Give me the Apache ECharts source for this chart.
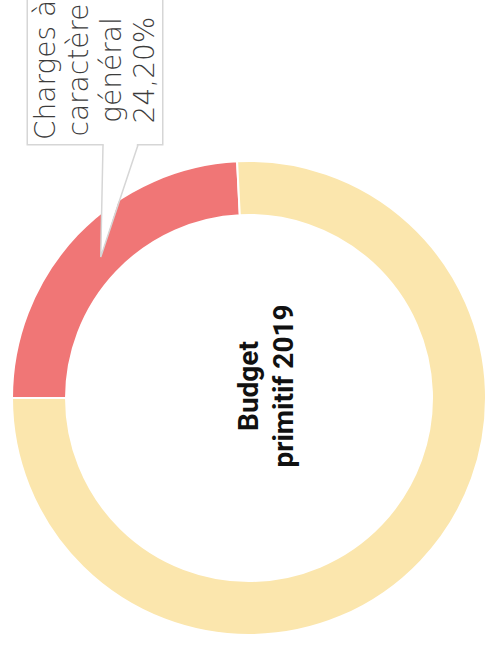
<!DOCTYPE html>
<html>
<head>
<meta charset="utf-8">
<script src="https://cdn.jsdelivr.net/npm/echarts@6/dist/echarts.min.js"></script>
<style>
html,body{margin:0;padding:0;background:#fff;}
#chart{width:488px;height:651px;}
</style>
</head>
<body>
<div id="chart"></div>
<script>
// Data
const categories = ['Charges à caractère général', 'Autres dépenses'];
const labelNames = ['Charges à\ncaractère\ngénéral', ''];
const values = [24.2, 75.8];
const sliceColors = ['#F07676', '#FBE6AD'];
const showLabel = [true, false];
const centerTitle = ['Budget', 'primitif 2019'];

// Layout
const CX = 249, CY = 398, R_IN = 183, R_OUT = 237, START = 180;
const LABEL_X = 95, LABEL_Y = 70;

const chart = echarts.init(document.getElementById('chart'), null, {renderer: 'svg'});

const fmtPct = v => v.toFixed(2).replace('.', ',') + '%';

// Pointer tip computed from the labelled slice's mid-angle
const total = values.reduce((a, b) => a + b, 0);
const midAngle = (START - values[0] / total * 360 / 2) * Math.PI / 180;
const rTip = R_IN + (R_OUT - R_IN) * 0.4;
const tip = [CX + rTip * Math.cos(midAngle), CY - rTip * Math.sin(midAngle)];
const baseY = 145, baseL = 103, baseR = 138;

chart.setOption({
  backgroundColor: '#ffffff',
  animation: false,
  series: [{
    type: 'pie',
    center: [CX, CY],
    radius: [R_IN, R_OUT],
    startAngle: START,
    clockwise: true,
    avoidLabelOverlap: false,
    itemStyle: {borderColor: '#ffffff', borderWidth: 2},
    labelLine: {show: false},
    label: {
      show: true,
      position: 'outside',
      rotate: 90,
      formatter: p => labelNames[p.dataIndex] + '\n' + fmtPct(p.value),
      fontFamily: 'DejaVu Sans',
      fontWeight: 200,
      fontSize: 28,
      lineHeight: 33,
      color: '#3c3c3c',
      align: 'center',
      backgroundColor: '#ffffff',
      borderColor: '#d6d6d6',
      borderWidth: 1.5,
      padding: [1, 4]
    },
    labelLayout: function (params) {
      if (params.dataIndex !== 0) return {};
      return {x: LABEL_X, y: LABEL_Y, align: 'center', verticalAlign: 'middle', rotate: 90};
    },
    emphasis: {disabled: true},
    data: categories.map((c, i) => ({
      name: c,
      value: values[i],
      itemStyle: {color: sliceColors[i]},
      label: {show: showLabel[i]}
    }))
  }],
  graphic: [
    {
      type: 'polygon', z: 100,
      shape: {points: [[baseL + 0.8, baseY - 1.5], [baseR - 0.8, baseY - 1.5], tip]},
      style: {fill: '#ffffff'}
    },
    {
      type: 'polyline', z: 101,
      shape: {points: [[baseL, baseY], tip, [baseR, baseY]]},
      style: {stroke: '#d6d6d6', lineWidth: 1.5, fill: null}
    },
    {
      type: 'text', z: 102,
      x: 266, y: 386, rotation: Math.PI / 2,
      style: {
        text: centerTitle.join('\n'),
        fontFamily: 'Roboto',
        fontWeight: 'bold',
        fontSize: 28,
        lineHeight: 35,
        fill: '#111111',
        align: 'center', verticalAlign: 'middle',
        textAlign: 'center', textVerticalAlign: 'middle'
      }
    }
  ]
});
</script>
</body>
</html>
